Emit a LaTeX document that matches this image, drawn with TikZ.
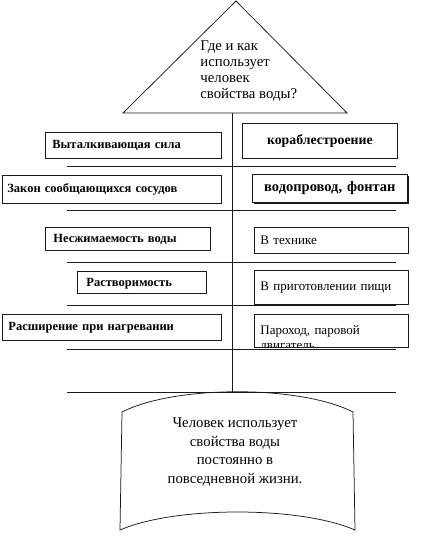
\documentclass[tikz,border=0pt]{standalone}
\usepackage{fontspec}
\setmainfont{Liberation Serif}
\usetikzlibrary{positioning}
\definecolor{ink}{HTML}{1A1A1A}

\begin{document}
\begin{tikzpicture}[x=1pt,y=-1pt,line width=0.75pt,draw=ink,
  propbox/.style={draw=ink,anchor=north west,inner ysep=0pt,align=left,font=\bfseries\fontsize{12.5}{14}\selectfont},
  usebox/.style={draw=ink,fill=white,anchor=north west,inner ysep=0pt,align=left,font=\fontsize{13}{15}\selectfont},
  shelf/.style={draw=ink,line width=0.75pt}]
  \useasboundingbox (0,0) rectangle (426,548);
  % roof with the question
  \coordinate (apex) at (236,1);
  \coordinate (baseL) at (123,113);
  \coordinate (baseR) at (347,113);
  \draw (baseL) -- (apex) -- (baseR) -- cycle;
  \node[anchor=north west,align=left,inner sep=0pt,font=\fontsize{14.8}{16.3}\selectfont] (question) at (200,40) {Где и как\\использует\\человек\\свойства воды?};
  % shelves and the pole
  \foreach \y in {166,210,262,305,349,392} \draw[shelf] (67,\y) -- (396,\y);
  \coordinate (poleTop) at (232,113);
  \coordinate (poleEnd) at (232,392);
  \draw (poleTop) -- (poleEnd);
  % properties
  \node[propbox,minimum height=26pt,text width=162pt,inner xsep=7pt] (push) at (45,132) {Выталкивающая сила};
  \node[propbox,minimum height=28pt,text width=209pt,inner xsep=5pt] (vessels) at (2,175) {Закон сообщающихся сосудов};
  \node[propbox,minimum height=23pt,text width=149pt,inner xsep=8pt,text depth=-2pt] (incompr) at (45,227) {Несжимаемость воды};
  \node[propbox,minimum height=22pt,text width=111pt,inner xsep=9pt,text depth=-1pt] (solub) at (77,271) {Растворимость};
  \node[propbox,minimum height=26pt,text width=207pt,inner xsep=6pt] (expand) at (2,314) {Расширение при нагревании};
  % uses
  \node[propbox,align=center,font=\bfseries\fontsize{13.8}{15}\selectfont,minimum height=35pt,text width=141pt,inner xsep=7pt] (ships) at (242,123) {кораблестроение};
  \fill[ink] (253.5,175.5) rectangle (408.5,203.5);
  \node[propbox,fill=white,align=center,font=\bfseries\fontsize{14.5}{15}\selectfont,minimum height=28pt,text width=145pt,inner xsep=5pt] (pipes) at (252,174) {водопровод, фонтан};
  \node[usebox,minimum height=26pt,text width=142pt,inner xsep=6pt] (tech) at (254,227) {В технике};
  \node[usebox,minimum height=34pt,text width=142pt,inner xsep=6pt] (cook) at (254,270) {В приготовлении пищи};
  \begin{scope}
    \clip (254,314) rectangle (408,347);
    \node[usebox,draw=none,text width=142pt,inner xsep=6pt,inner ysep=11pt] (steam) at (254,314) {Пароход, паровой\\двигатель};
  \end{scope}
  \draw (254,314) rectangle (408,347);
  % conclusion banner
  \draw (122,412) .. controls (175,385) and (300,385) .. (353,412) -- (355,530)
        .. controls (300,506) and (175,506) .. (120,530) -- cycle;
  \node[align=center,inner sep=0pt,font=\fontsize{14.8}{18.5}\selectfont] (result) at (235,452) {Человек использует\\свойства воды\\постоянно в\\повседневной жизни.};
\end{tikzpicture}
\end{document}
